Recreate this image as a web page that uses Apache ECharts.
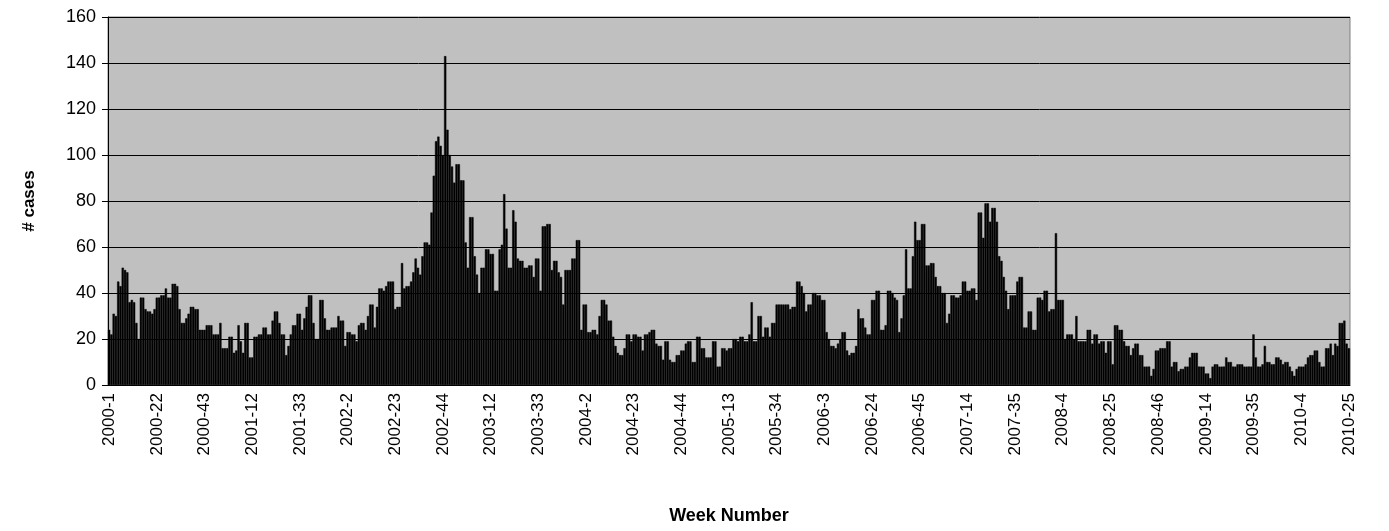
<!DOCTYPE html>
<html>
<head>
<meta charset="utf-8">
<script src="https://cdn.jsdelivr.net/npm/echarts@6/dist/echarts.min.js"></script>
<style>
  html, body { margin: 0; padding: 0; background: #fff; }
  #chart { width: 1389px; height: 531px; }
</style>
</head>
<body>
<div id="chart"></div>
<script>
// weekly case counts, one array per year
const cases2000 = [24,22,31,30,45,43,51,50,49,36,37,36,27,20,38,38,33,32,32,31,33,38,38,39,39,42,38,38,44,44,43,33,27,27,29,31,34,34,33,33,24,24,24,26,26,26,22,22,22,27,16,16];
const cases2001 = [16,21,21,14,15,26,19,14,27,27,12,12,21,21,22,22,25,25,22,22,28,32,32,27,22,22,13,17,22,26,26,31,31,24,29,34,39,39,27,20,20,37,37,29,24,24,25,25,25,30,28,28];
const cases2002 = [17,23,23,22,22,19,26,27,27,24,30,35,35,25,34,42,42,41,43,45,45,45,33,34,34,53,42,43,43,45,49,55,51,48,56,62,62,61,75,91,106,108,104,100,143,111,100,95,88,96,96,89,89];
const cases2003 = [62,51,73,73,56,48,40,51,51,59,59,57,57,41,41,59,61,83,68,51,51,76,71,55,54,54,51,51,52,52,47,55,55,41,69,69,70,70,50,54,54,49,47,35,50,50,50,55,55,63,63,24];
const cases2004 = [35,35,23,23,24,24,22,30,37,37,35,28,28,21,17,14,13,13,16,22,22,19,22,22,21,21,15,22,22,23,24,24,18,17,17,11,19,19,11,10,10,13,13,15,15,18,19,19,10,10,21,21];
const cases2005 = [16,16,12,12,12,19,19,8,8,16,16,15,16,16,20,20,19,21,21,19,19,22,36,19,19,30,30,21,25,25,21,27,27,35,35,35,35,35,35,33,34,34,45,45,43,40,32,35,35,40,40,39];
const cases2006 = [39,37,37,23,20,17,17,16,18,20,23,23,15,13,14,14,17,33,29,29,25,22,22,37,37,41,41,24,24,26,41,41,40,38,37,23,29,39,59,42,42,56,71,63,63,70,70,52,52,53,53,47];
const cases2007 = [43,43,40,40,27,31,39,39,38,38,39,45,45,41,41,42,42,37,75,75,64,79,79,71,77,77,71,56,54,47,41,33,39,39,39,45,47,47,25,25,32,32,24,24,38,38,37,41,41,32,33,33];
const cases2008 = [66,37,37,37,20,22,22,22,20,30,19,19,19,19,24,24,18,22,22,18,19,19,14,19,19,9,26,26,24,24,19,17,17,13,16,18,18,13,13,8,8,8,4,7,15,15,16,16,16,19,19,8,10];
const cases2009 = [10,6,7,7,8,8,12,14,14,14,8,8,8,5,5,3,8,9,9,8,8,8,12,10,10,8,8,9,9,9,8,8,8,8,22,12,8,8,9,17,10,10,9,9,12,12,11,9,10,10,8,6];
const cases2010 = [4,7,8,8,8,9,12,13,13,15,15,10,8,8,16,16,18,13,18,17,27,27,28,18,16];

const years = [2000, 2001, 2002, 2003, 2004, 2005, 2006, 2007, 2008, 2009, 2010];
const casesByYear = [cases2000, cases2001, cases2002, cases2003, cases2004, cases2005,
  cases2006, cases2007, cases2008, cases2009, cases2010];

// category labels "year-week"
const weekLabels = [];
const weeklyCases = [];
years.forEach((year, k) => {
  casesByYear[k].forEach((v, w) => {
    weekLabels.push(year + '-' + (w + 1));
    weeklyCases.push(v);
  });
});

const font = 'Liberation Sans, Arial, sans-serif';
const chart = echarts.init(document.getElementById('chart'));

const option = {
  animation: false,
  backgroundColor: '#fff',
  grid: {
    left: 108,
    right: 39,
    top: 17,
    bottom: 146,
    show: true,
    backgroundColor: '#c0c0c0',
    borderColor: '#808080',
    borderWidth: 1
  },
  xAxis: {
    type: 'category',
    data: weekLabels,
    name: 'Week Number',
    nameLocation: 'middle',
    nameGap: 122,
    nameTextStyle: { fontFamily: font, fontWeight: 'bold', fontSize: 18, color: '#000' },
    axisLine: { lineStyle: { color: '#000', width: 1 } },
    axisTick: { interval: 0, length: 5, lineStyle: { color: '#000' } },
    axisLabel: {
      interval: 20,
      rotate: 90,
      margin: 8,
      fontFamily: font,
      fontSize: 17,
      color: '#000'
    },
    splitLine: { show: false }
  },
  yAxis: {
    type: 'value',
    min: 0,
    max: 160,
    interval: 20,
    name: '# cases',
    nameLocation: 'middle',
    nameGap: 70,
    nameTextStyle: { fontFamily: font, fontWeight: 'bold', fontSize: 17, color: '#000' },
    axisLine: { show: true, lineStyle: { color: '#000', width: 1 } },
    axisTick: { show: true, length: 6, lineStyle: { color: '#000' } },
    axisLabel: { fontFamily: font, fontSize: 18, color: '#000', margin: 12 },
    splitLine: { lineStyle: { color: '#000', width: 1 } }
  },
  series: [
    {
      name: '# cases',
      type: 'bar',
      data: weeklyCases,
      barCategoryGap: '0%',
      itemStyle: { color: '#000', borderColor: '#000', borderWidth: 0.5 }
    }
  ]
};

chart.setOption(option);
</script>
</body>
</html>
